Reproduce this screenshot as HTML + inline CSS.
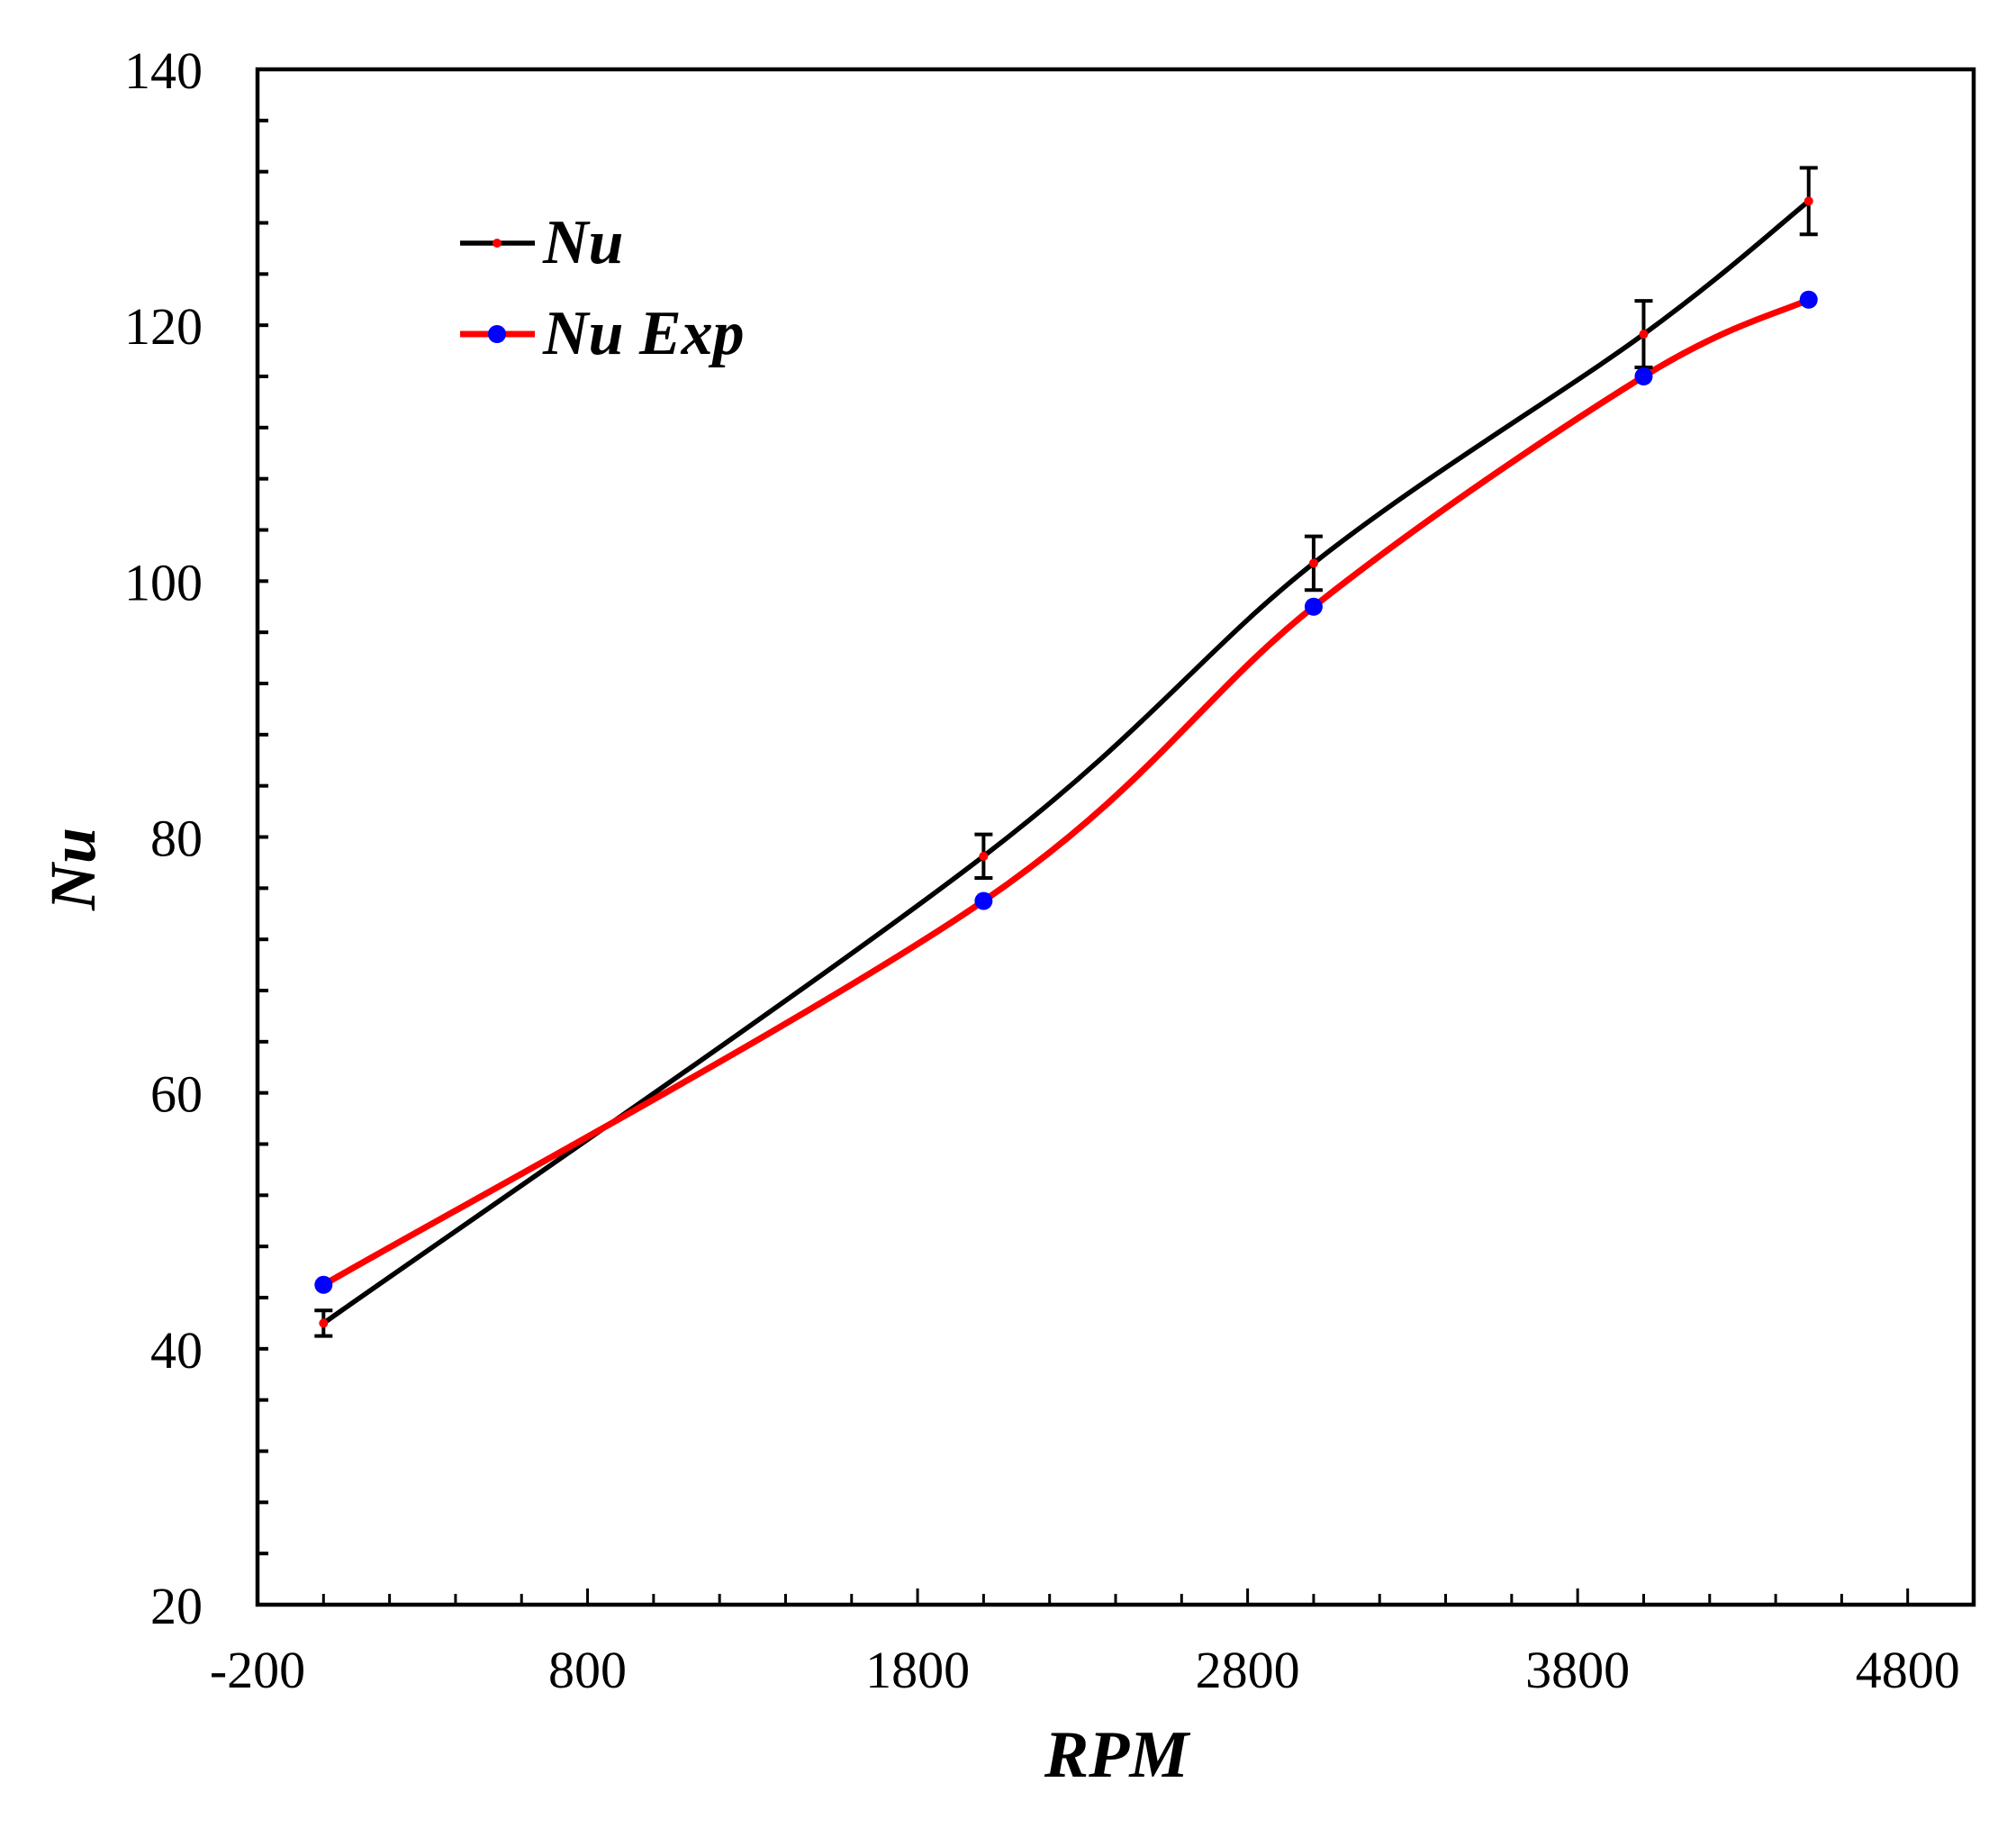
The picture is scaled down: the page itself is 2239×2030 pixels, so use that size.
<!DOCTYPE html>
<html><head><meta charset="utf-8"><style>
html,body{margin:0;padding:0;background:#fff;}
svg text{font-family:"Liberation Serif",serif;}
</style></head><body>
<svg id="chart" width="2239" height="2025" viewBox="0 0 2239 2025" xmlns="http://www.w3.org/2000/svg">
<rect width="2239" height="2025" fill="#fff"/>
<g id="ticks"></g>
<g id="series"></g>
<rect x="286" y="77" width="1906" height="1705" fill="none" stroke="#000" stroke-width="4.5"/>
<text transform="translate(105,965) rotate(-90)" text-anchor="middle" font-size="72" font-weight="bold" font-style="italic">Nu</text>
<text x="1240" y="1973" text-anchor="middle" font-size="74" font-weight="bold" font-style="italic">RPM</text>
<g>
<line x1="511" y1="270" x2="594" y2="270" stroke="#000" stroke-width="5.5"/>
<circle cx="552" cy="270" r="5" fill="#f00"/>
<text x="603" y="292" font-size="70" font-weight="bold" font-style="italic">Nu</text>
<line x1="511" y1="371" x2="594" y2="371" stroke="#f00" stroke-width="7"/>
<circle cx="552" cy="371" r="10" fill="#00f"/>
<text x="603" y="393" font-size="70" font-weight="bold" font-style="italic">Nu Exp</text>
</g>
</svg>
<script>
const rpm = [0, 2000, 3000, 4000, 4500];
const nuSim = [42, 78.5, 101.4, 119.3, 129.7];
const nuErr = [1, 1.7, 2.1, 2.6, 2.6];
const nuExp = [45, 75, 98, 116, 122];
const xTickLabels = [-200, 800, 1800, 2800, 3800, 4800];
const yTickLabels = [20, 40, 60, 80, 100, 120, 140];

const NS = "http://www.w3.org/2000/svg";
const L = 286, R = 2192, T = 77, B = 1782;
const xMin = -200, xMax = 5000, yMin = 20, yMax = 140;
const X = v => L + (v - xMin) / (xMax - xMin) * (R - L);
const Y = v => B - (v - yMin) / (yMax - yMin) * (B - T);
function mk(tag, attrs, parent) {
  const e = document.createElementNS(NS, tag);
  for (const k in attrs) e.setAttribute(k, attrs[k]);
  parent.appendChild(e);
  return e;
}
const ticks = document.getElementById('ticks');
const series = document.getElementById('series');

for (let v = xMin; v <= xMax; v += 200) {
  if (v === xMin || v === xMax) continue;
  const major = ((v + 200) % 1000) === 0;
  const t = mk('line', {x1: X(v), x2: X(v), y1: B, y2: B - (major ? 18 : 12), stroke: '#000', 'stroke-width': 3}, ticks);
  
  
}
for (let v = yMin + 4; v < yMax; v += 4) {
  const t = mk('line', {x1: L, x2: L + 12, y1: Y(v), y2: Y(v), stroke: '#000', 'stroke-width': 4}, ticks);
  
  
}
xTickLabels.forEach(v => {
  const t = mk('text', {x: X(v), y: B + 92, 'text-anchor': 'middle', 'font-size': 58}, ticks);
  t.textContent = v;
  
  
});
yTickLabels.forEach(v => {
  const t = mk('text', {x: 225, y: Y(v) + 21, 'text-anchor': 'end', 'font-size': 58}, ticks);
  t.textContent = v;
  
  
});

function smooth(xs, ys) {
  const p = xs.map((x, i) => [X(x), Y(ys[i])]);
  let d = `M${p[0][0]},${p[0][1]}`;
  for (let i = 0; i < p.length - 1; i++) {
    const p0 = p[i - 1] || p[i], p1 = p[i], p2 = p[i + 1], p3 = p[i + 2] || p2;
    const c1 = [p1[0] + (p2[0] - p0[0]) / 6, p1[1] + (p2[1] - p0[1]) / 6];
    const c2 = [p2[0] - (p3[0] - p1[0]) / 6, p2[1] - (p3[1] - p1[1]) / 6];
    d += ` C${c1[0]},${c1[1]} ${c2[0]},${c2[1]} ${p2[0]},${p2[1]}`;
  }
  return d;
}
const lineSim = mk('path', {d: smooth(rpm, nuSim), fill: 'none', stroke: '#000', 'stroke-width': 5.5}, series);


const lineExp = mk('path', {d: smooth(rpm, nuExp), fill: 'none', stroke: '#f00', 'stroke-width': 7}, series);



rpm.forEach((r, i) => {
  const x = X(r), y1 = Y(nuSim[i] - nuErr[i]), y2 = Y(nuSim[i] + nuErr[i]);
  const eb = mk('path', {d: `M${x},${y1} V${y2} M${x - 10},${y1} H${x + 10} M${x - 10},${y2} H${x + 10}`, stroke: '#000', 'stroke-width': 4, fill: 'none'}, series);
  
  
  const d = mk('circle', {cx: x, cy: Y(nuSim[i]), r: 5, fill: '#f00'}, series);
  
  
  const e = mk('circle', {cx: x, cy: Y(nuExp[i]), r: 10, fill: '#00f'}, series);
  
  
});
</script>
</body></html>
